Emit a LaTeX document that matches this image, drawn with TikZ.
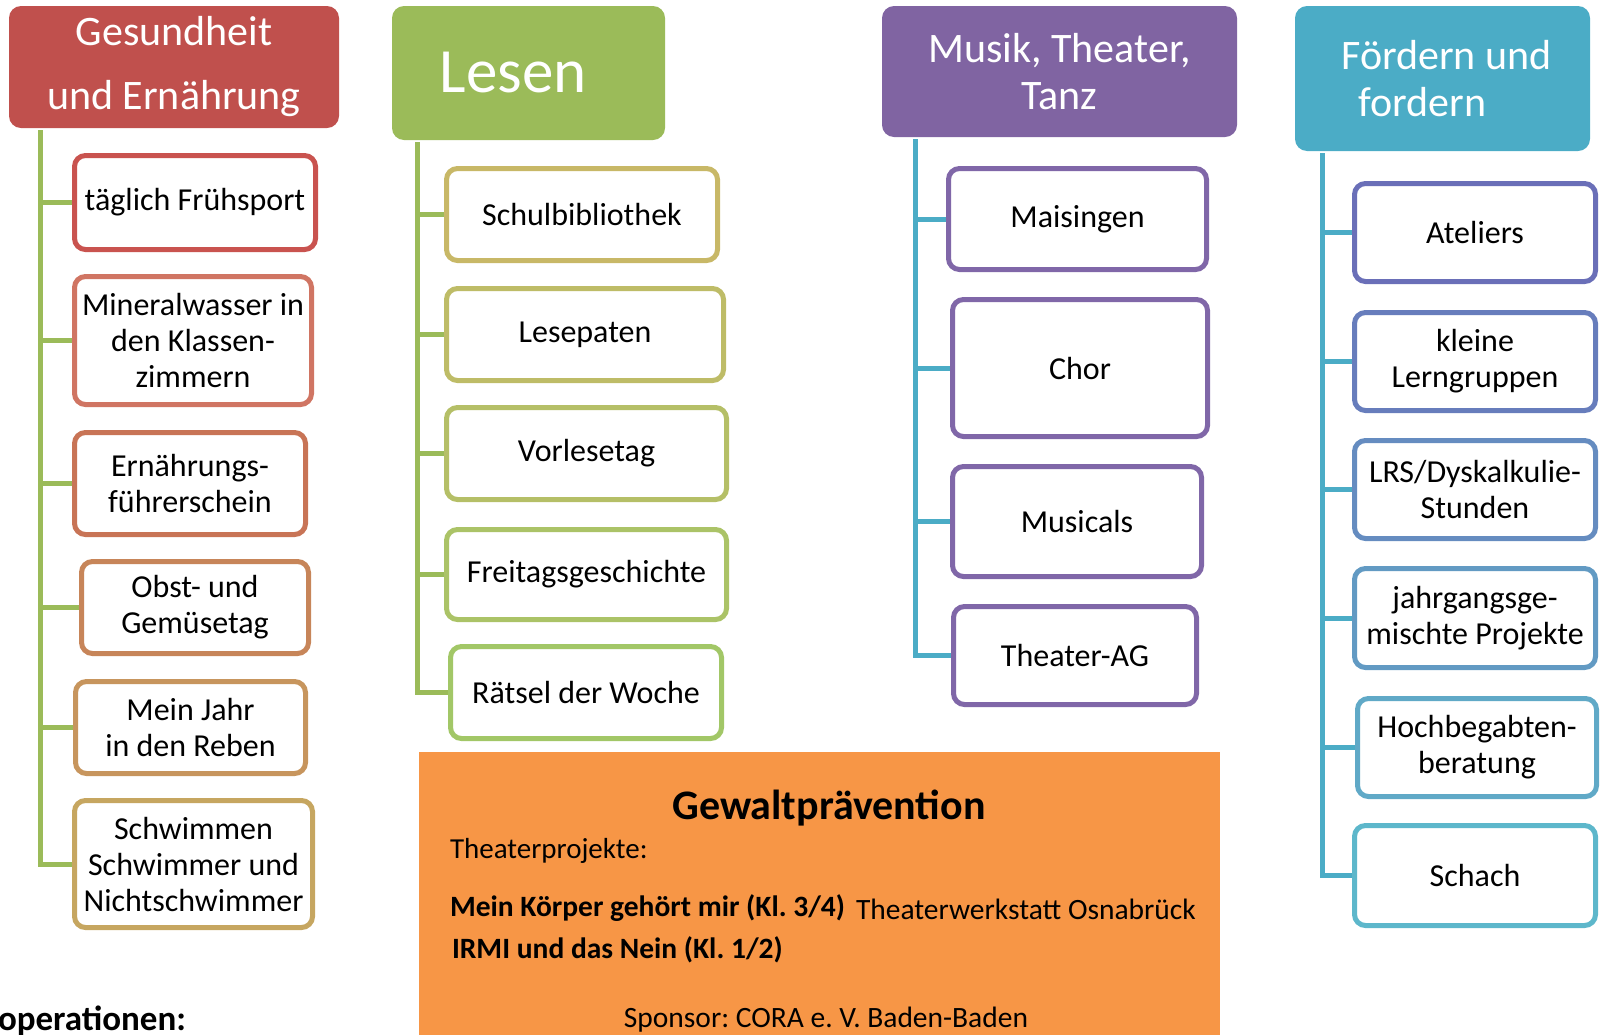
\documentclass[tikz,border=0pt]{standalone}
\usepackage{fontspec}
\setmainfont{Carlito}
\usetikzlibrary{backgrounds}
\frenchspacing
\definecolor{hdrred}{HTML}{C0504D}
\definecolor{hdrgreen}{HTML}{9BBB59}
\definecolor{hdrpurple}{HTML}{8064A2}
\definecolor{hdrteal}{HTML}{4BACC6}
\definecolor{boxorange}{HTML}{F79646}
\definecolor{redtop}{HTML}{C9534F}
\definecolor{redbot}{HTML}{C6A660}
\definecolor{goldtop}{HTML}{C8B867}
\definecolor{greenbot}{HTML}{A2C767}
\definecolor{lilac}{HTML}{8067A8}
\definecolor{bluetop}{HTML}{6A6FB8}
\definecolor{tealbot}{HTML}{5DB7CB}
\begin{document}
\begin{tikzpicture}[x=1pt,y=-1pt,inner sep=0pt,outer sep=0pt,
hdr/.style={fill=#1,rounded corners=12pt,text=white,align=center,font=\fontsize{42}{47}\selectfont},
item/.style={draw=#1,fill=white,line width=5pt,rounded corners=11pt,align=center,font=\fontsize{32}{36}\selectfont},
trunk/.style={draw=#1,line width=5pt}]
\path[use as bounding box,clip] (0,0) rectangle (1600,1034);
% headers
\draw (174,67) node[hdr=hdrred,minimum width=330pt,minimum height=122pt,font=\fontsize{42}{64}\selectfont] (gesund) {Gesundheit\\und Ernährung};
\draw (528.5,73) node[hdr=hdrgreen,minimum width=273pt,minimum height=134pt,font=\fontsize{63}{70}\selectfont] (lesen) {\hspace{-31pt}Lesen};
\draw (1059.5,71.5) node[hdr=hdrpurple,minimum width=355pt,minimum height=131pt] (musik) {Musik, Theater,\\Tanz};
\draw (1442.5,78.5) node[hdr=hdrteal,minimum width=295pt,minimum height=145pt,align=left] (foerdern) {\hspace*{8pt}Fördern und\\\hspace*{25pt}fordern};
% Gesundheit und Ernaehrung
\draw (195,202.5) node[item=redtop,minimum width=241pt,minimum height=94pt] (g1) {täglich Frühsport};
\draw (193,340.5) node[item=redtop!75!redbot!85!pink,minimum width=237pt,minimum height=128pt] (g2) {Mineralwasser in\\den Klassen-\\zimmern};
\draw (190,483.5) node[item=redtop!60!redbot,minimum width=231pt,minimum height=102pt] (g3) {Ernährungs-\\führerschein};
\draw (195,607.5) node[item=redtop!40!redbot,minimum width=227pt,minimum height=92pt] (g4) {Obst- und\\Gemüsetag};
\draw (190.5,727.5) node[item=redtop!20!redbot,minimum width=230pt,minimum height=92pt] (g5) {Mein Jahr\\in den Reben};
\draw (193.5,864) node[item=redbot,minimum width=238pt,minimum height=127pt] (g6) {Schwimmen\\Schwimmer und\\Nichtschwimmer};
% Lesen
\draw (582,214.5) node[item=goldtop,minimum width=271pt,minimum height=92pt] (l1) {Schulbibliothek};
\draw (585,334.5) node[item=goldtop!75!greenbot,minimum width=277pt,minimum height=92pt] (l2) {Lesepaten};
\draw (586.5,453.5) node[item=goldtop!50!greenbot,minimum width=280pt,minimum height=92pt] (l3) {Vorlesetag};
\draw (586.5,574.5) node[item=goldtop!25!greenbot,minimum width=280pt,minimum height=90pt] (l4) {Freitagsgeschichte};
\draw (586,692.5) node[item=greenbot,minimum width=271pt,minimum height=92pt] (l5) {Rätsel der Woche};
% Musik, Theater, Tanz
\draw (1077.5,219) node[item=lilac,minimum width=258pt,minimum height=101pt] (m1) {Maisingen};
\draw (1080,368) node[item=lilac,minimum width=255pt,minimum height=137pt] (m2) {Chor};
\draw (1077,521.5) node[item=lilac,minimum width=249pt,minimum height=110pt] (m3) {Musicals};
\draw (1075,655.5) node[item=lilac,minimum width=243pt,minimum height=98pt] (m4) {Theater-AG};
% Foerdern und fordern
\draw (1475,232.5) node[item=bluetop,minimum width=241pt,minimum height=98pt] (f1) {Ateliers};
\draw (1475,361.5) node[item=bluetop!80!tealbot,minimum width=241pt,minimum height=98pt] (f2) {kleine\\Lerngruppen};
\draw (1475,489.5) node[item=bluetop!60!tealbot,minimum width=241pt,minimum height=98pt] (f3) {LRS/Dyskalkulie-\\Stunden};
\draw (1475,618) node[item=bluetop!40!tealbot,minimum width=241pt,minimum height=99pt] (f4) {jahrgangsge-\\mischte Projekte};
\draw (1477,747.5) node[item=bluetop!20!tealbot,minimum width=239pt,minimum height=98pt] (f5) {Hochbegabten-\\beratung};
\draw (1475,875.5) node[item=tealbot,minimum width=241pt,minimum height=100pt] (f6) {Schach};
% trunks
\coordinate (gtop) at (40,130);
\coordinate (ltop) at (417,142);
\coordinate (mtop) at (915,139);
\coordinate (ftop) at (1322,153);
\begin{pgfonlayer}{background}
\draw[trunk=hdrgreen] (gtop) |- (g6.west);
\draw[trunk=hdrgreen] (gtop |- g1.west) -- (g1.west);
\draw[trunk=hdrgreen] (gtop |- g2.west) -- (g2.west);
\draw[trunk=hdrgreen] (gtop |- g3.west) -- (g3.west);
\draw[trunk=hdrgreen] (gtop |- g4.west) -- (g4.west);
\draw[trunk=hdrgreen] (gtop |- g5.west) -- (g5.west);
\draw[trunk=hdrgreen] (ltop) |- (l5.west);
\draw[trunk=hdrgreen] (ltop |- l1.west) -- (l1.west);
\draw[trunk=hdrgreen] (ltop |- l2.west) -- (l2.west);
\draw[trunk=hdrgreen] (ltop |- l3.west) -- (l3.west);
\draw[trunk=hdrgreen] (ltop |- l4.west) -- (l4.west);
\draw[trunk=hdrteal] (mtop) |- (m4.west);
\draw[trunk=hdrteal] (mtop |- m1.west) -- (m1.west);
\draw[trunk=hdrteal] (mtop |- m2.west) -- (m2.west);
\draw[trunk=hdrteal] (mtop |- m3.west) -- (m3.west);
\draw[trunk=hdrteal] (ftop) |- (f6.west);
\draw[trunk=hdrteal] (ftop |- f1.west) -- (f1.west);
\draw[trunk=hdrteal] (ftop |- f2.west) -- (f2.west);
\draw[trunk=hdrteal] (ftop |- f3.west) -- (f3.west);
\draw[trunk=hdrteal] (ftop |- f4.west) -- (f4.west);
\draw[trunk=hdrteal] (ftop |- f5.west) -- (f5.west);
\end{pgfonlayer}
% Gewaltpraevention
\draw (419,752) node[fill=boxorange,anchor=north west,minimum width=801pt,minimum height=290pt] (gewalt) {};
\draw (829,819) node[anchor=base,font=\bfseries\fontsize{42}{46}\selectfont] (gtitle) {Gewaltprävention};
\draw (450,858) node[anchor=base west,font=\fontsize{29}{34}\selectfont] (gproj) {Theaterprojekte:};
\draw (450,916) node[anchor=base west,font=\bfseries\fontsize{29.5}{34}\selectfont] (gkoerper) {Mein Körper gehört mir (Kl. 3/4)};
\draw (856,919) node[anchor=base west,font=\fontsize{29.5}{34}\selectfont] (gwerk) {Theaterwerkstatt Osnabrück};
\draw (452,958) node[anchor=base west,font=\bfseries\fontsize{29.5}{34}\selectfont] (girmi) {IRMI und das Nein (Kl. 1/2)};
\draw (826,1027) node[anchor=base,font=\fontsize{29.5}{34}\selectfont] (gsponsor) {Sponsor: CORA e. V. Baden-Baden};
\draw (186,1030) node[anchor=base east,font=\bfseries\fontsize{35}{40}\selectfont] (koop) {operationen:};
\end{tikzpicture}
\end{document}
